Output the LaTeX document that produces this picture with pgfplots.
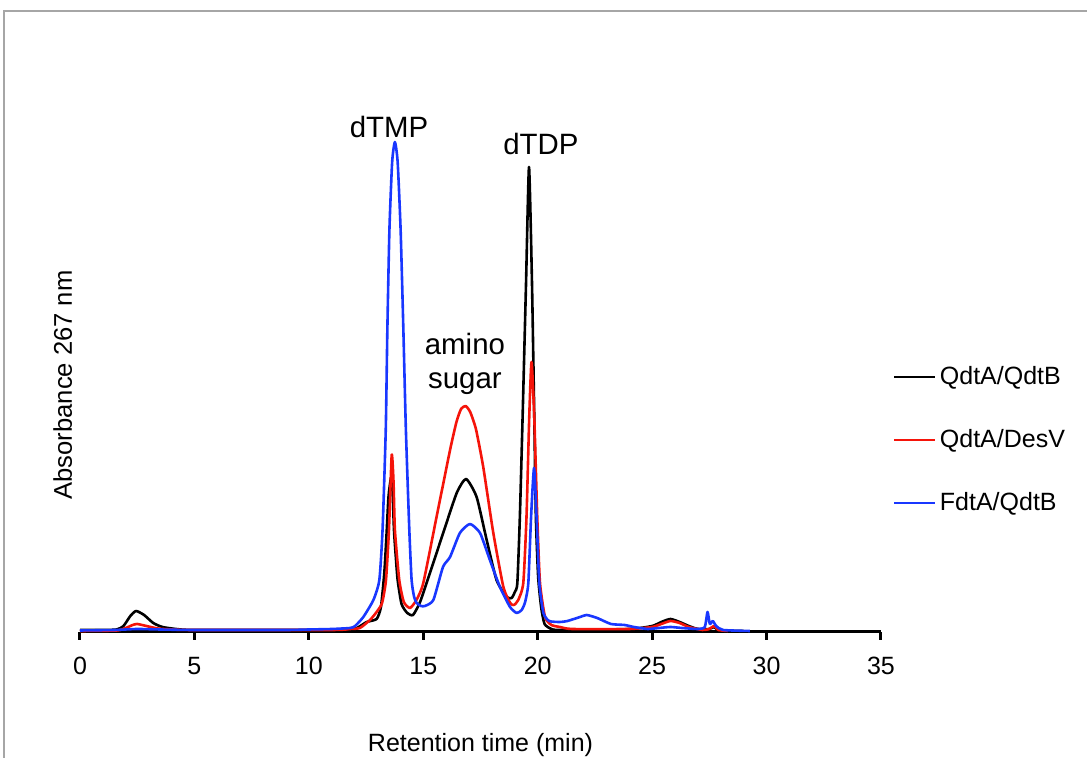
\documentclass[border=0pt]{standalone}
\usepackage{fontspec}
\setmainfont{Liberation Sans}
\usepackage{pgfplots}
\pgfplotsset{compat=1.18}
\definecolor{cblack}{RGB}{0,0,0}
\definecolor{cred}{RGB}{245,20,10}
\definecolor{cblue}{RGB}{25,55,255}
\newcommand{\lbl}{\fontsize{12.5}{15}\selectfont}
\newcommand{\peaklbl}{\fontsize{14.7}{17}\selectfont}
\begin{document}
\begin{tikzpicture}
\useasboundingbox (-40pt,-63pt) rectangle (503.5pt,316pt);
\draw[gray!70, line width=1pt] (-38pt,-70pt) -- (-38pt,310.5pt) -- (520pt,310.5pt);
\begin{axis}[
  scale only axis, width=400.5pt, height=250pt,
  xmin=0, xmax=35, ymin=0, ymax=500,
  clip=false,
  axis x line*=bottom, axis y line=none,
  axis line style={line width=1.5pt},
  xtick={0,5,...,35}, xtick align=outside,
  major tick length=4pt,
  every tick/.style={black, line width=1.5pt},
  /pgf/number format/assume math mode=true,
  xticklabel style={font=\lbl, yshift=-5pt},
  xlabel={Retention time (min)},
  xlabel style={font=\lbl, at={(axis description cs:0.5,0)}, anchor=center, yshift=-56.5pt},
  legend style={draw=none, fill=none, at={(axis cs:35.52,192)}, anchor=west,
    inner sep=0pt, row sep=17pt, font=\lbl, legend cell align=left},
  legend image code/.code={\draw[#1, line width=0.8pt] (0pt,0pt) -- (20.5pt,0pt);},
  every axis plot/.append style={line width=1.3pt, line join=round},
]
\addplot[cblack, smooth, tension=0.35] coordinates {
(0,2)(1.0,2)(1.6,2.5)(1.9,6)(2.2,16)(2.45,21)(2.8,17)(3.2,9)(3.6,5)(4.2,3)(5,2)(10,2)(11,2.5)(11.8,3)(12.1,4)(12.53,10)(12.96,13)(13.15,25)(13.3,60)(13.4,100)(13.48,135)(13.59,154)(13.66,140)(13.72,102)(13.8,75)(13.88,52)(14.05,28)(14.3,19)(14.55,17)(14.86,30)(15.29,59)(15.87,99)(16.46,139)(16.87,153)(17.33,135)(17.77,92)(18.2,52)(18.64,35)(18.86,34)(19.0,40)(19.11,49)(19.22,115)(19.34,215)(19.49,349)(19.62,465)(19.75,349)(19.85,215)(19.92,115)(20.02,55)(20.15,25)(20.3,8)(20.6,3)(21,2)(24,3)(25,6)(25.4,10)(25.8,13)(26.2,10)(26.6,6)(27,3)(27.5,3)(27.7,5)(27.9,2)(28.5,1)(29,1)};
\addlegendentry{QdtA/QdtB}
\addplot[cred, smooth, tension=0.35] coordinates {
(0,1)(1.6,1.5)(2.0,4)(2.3,7)(2.5,8)(2.9,6)(3.4,3.5)(4,2.5)(5,2)(11,2)(11.8,3)(12.23,4)(12.67,12)(12.96,20)(13.2,29)(13.37,52)(13.5,102)(13.62,177)(13.7,150)(13.76,102)(13.95,52)(14.15,30)(14.42,24)(14.7,32)(15.0,49)(15.58,115)(16.17,182)(16.45,210)(16.65,223)(16.85,226)(17.05,220)(17.3,203)(17.62,165)(18.06,99)(18.5,45)(18.8,29)(18.96,27)(19.15,32)(19.37,49)(19.51,115)(19.63,215)(19.73,270)(19.85,215)(19.98,115)(20.1,49)(20.32,15)(20.6,7)(20.97,5)(21.5,3)(24,3)(25,5)(25.4,8)(25.8,11)(26.2,9)(26.6,5)(27.2,2)(27.5,3)(27.7,6)(27.9,2)(28.3,1)};
\addlegendentry{QdtA/DesV}
\addplot[cblue, smooth, tension=0.35] coordinates {
(0,1.5)(1.5,2)(2.5,3)(3.5,2.5)(5,2)(9,2)(10,2.5)(11,3)(11.8,4)(12.02,6)(12.38,15)(12.82,32)(13.08,52)(13.22,102)(13.36,202)(13.43,302)(13.52,402)(13.64,470)(13.76,490)(13.88,470)(14.01,402)(14.13,302)(14.24,202)(14.39,102)(14.49,52)(14.6,35)(14.71,29)(14.9,26)(15.07,26)(15.44,32)(15.86,65)(16.17,75)(16.6,99)(17.04,108)(17.48,99)(17.91,72)(18.35,45)(18.79,25)(19.08,19)(19.3,22)(19.45,30)(19.59,49)(19.71,115)(19.84,164)(19.95,115)(20.07,49)(20.25,19)(20.5,11)(20.97,10)(21.3,11)(21.85,15)(22.14,17)(22.6,14)(23.2,8)(23.8,7)(24.2,5)(24.8,3)(25.3,4)(25.8,5)(26.3,4)(27,3)(27.3,5)(27.42,20)(27.52,8)(27.65,11)(27.8,6)(28.1,2)(29.27,1)};
\addlegendentry{FdtA/QdtB}
\node[font=\peaklbl] at (axis cs:13.5,505) {dTMP};
\node[font=\peaklbl] at (axis cs:20.14,488) {dTDP};
\node[font=\peaklbl, align=center, inner sep=0pt] at (axis cs:16.82,268) {amino\\[0pt]sugar};
\node[font=\fontsize{12.8}{15}\selectfont, rotate=90] at (axis cs:-0.75,247) {Absorbance 267 nm};
\end{axis}
\end{tikzpicture}
\end{document}
